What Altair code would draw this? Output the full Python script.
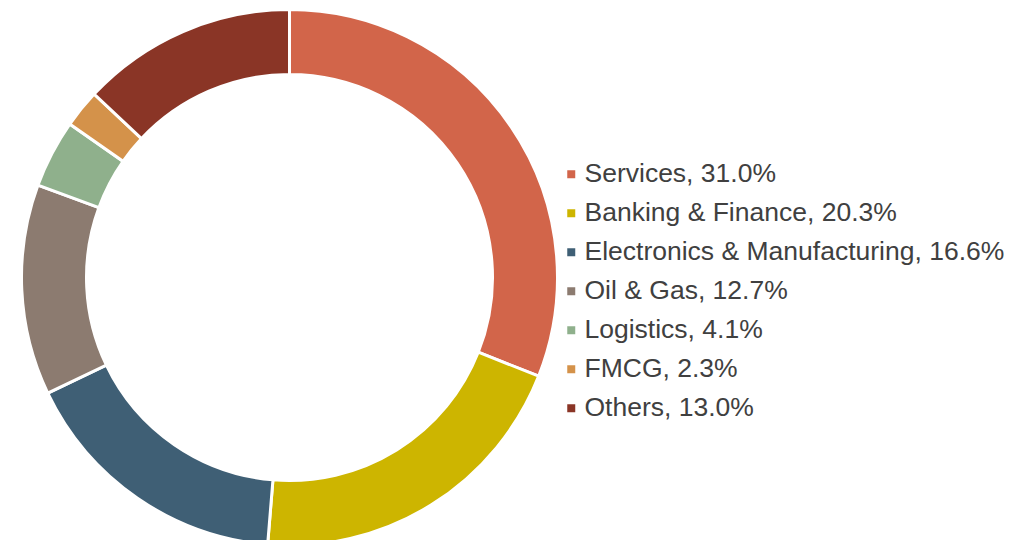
import altair as alt
import pandas as pd

sectors = ["Services", "Banking & Finance", "Electronics & Manufacturing",
           "Oil & Gas", "Logistics", "FMCG", "Others"]
shares = [31.0, 20.3, 16.6, 12.7, 4.1, 2.3, 13.0]
colors = ["#D2654A", "#CDB500", "#3F5F75", "#8C7B70", "#8FB08C", "#D4924A", "#8A3526"]

labels = [f"{s}, {v:.1f}%" for s, v in zip(sectors, shares)]
df = pd.DataFrame({"label": labels, "share": shares, "idx": list(range(len(shares)))})

chart = alt.Chart(df).mark_arc(
    outerRadius=268, innerRadius=203, stroke="white", strokeWidth=3
).encode(
    theta=alt.Theta("share:Q", stack=True),
    order=alt.Order("idx:Q"),
    color=alt.Color(
        "label:N",
        scale=alt.Scale(domain=labels, range=colors),
        sort=labels,
        legend=alt.Legend(
            title=None, orient="none", legendX=550, legendY=153,
            symbolType="square", symbolSize=64, symbolStrokeWidth=0,
            labelFontSize=26.5, labelFont="Liberation Sans", labelColor="#404040",
            rowPadding=12, labelOffset=0, labelLimit=600,
        ),
    ),
    x=alt.value(281.5),
    y=alt.value(269.5),
).properties(
    width=1006, height=532, padding=0,
    autosize=alt.AutoSizeParams(type="none"),
).configure_view(stroke=None)

chart.save("out.html", embed_options={"renderer": "svg", "actions": False})
